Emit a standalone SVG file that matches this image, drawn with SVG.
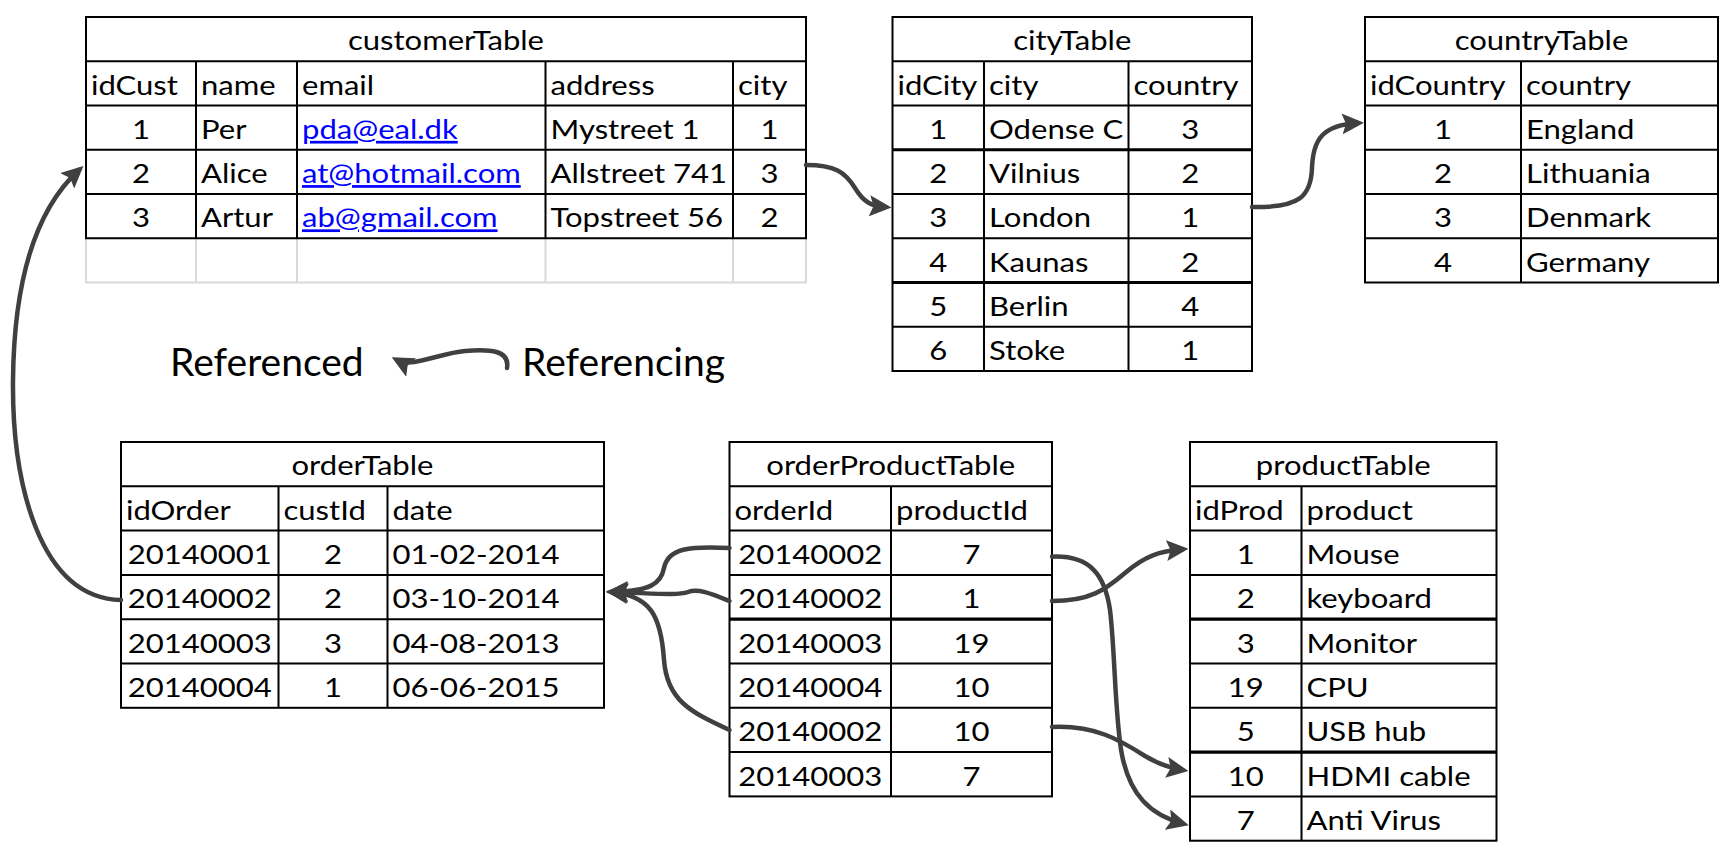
<svg xmlns="http://www.w3.org/2000/svg" width="1728" height="845" viewBox="0 0 1728 845">
<style>
.t{font-family:Lato,"Open Sans","Liberation Sans",sans-serif;font-size:27px;fill:#000;transform-box:fill-box;transform:translateY(1.5px) scaleX(1.15)}
.l{text-anchor:start;transform-origin:left center}
.c{text-anchor:middle;transform-origin:center}
.lnk{fill:#0000ff;text-decoration:underline}
.big{font-family:Lato,"Open Sans","Liberation Sans",sans-serif;font-size:39px;fill:#000}
.g{fill:none;stroke:#000;stroke-width:2}
.tk{stroke-width:3.2}
.gr{fill:none;stroke:#d9d9d9;stroke-width:2}
.cn{fill:none;stroke:#404040;stroke-width:4.5;stroke-linecap:round;marker-end:url(#ah)}
</style>
<defs>
<marker id="ah" markerUnits="userSpaceOnUse" markerWidth="22" markerHeight="21" viewBox="0 0 22 21" refX="16" refY="10.5" orient="auto">
<path d="M0,0 L22,10.5 L0,21 L4,10.5 z" fill="#404040"/>
</marker>
</defs>
<rect width="1728" height="845" fill="#fff"/>

<g id="customerTable">
<path class="gr" d="M86,238.25V282.5H806V238.25M196,238.25V282.5M297,238.25V282.5M545.5,238.25V282.5M733,238.25V282.5"/>
<rect class="g" x="86" y="17" width="720" height="221.25"/>
<path class="g" d="M86,61.25H806M86,105.5H806M86,149.75H806M86,194H806M196,61.25V238.25M297,61.25V238.25M545.5,61.25V238.25M733,61.25V238.25"/>
<text class="t c" x="446" y="49">customerTable</text>
<text class="t l" x="91" y="93.25">idCust</text>
<text class="t l" x="201" y="93.25">name</text>
<text class="t l" x="302" y="93.25">email</text>
<text class="t l" x="550.5" y="93.25">address</text>
<text class="t l" x="738" y="93.25">city</text>
<text class="t c" x="141" y="137.5">1</text>
<text class="t l" x="201" y="137.5">Per</text>
<text class="t l lnk" x="302" y="137.5">pda@eal.dk</text>
<text class="t l" x="550.5" y="137.5">Mystreet 1</text>
<text class="t c" x="769.5" y="137.5">1</text>
<text class="t c" x="141" y="181.75">2</text>
<text class="t l" x="201" y="181.75">Alice</text>
<text class="t l lnk" x="302" y="181.75">at@hotmail.com</text>
<text class="t l" x="550.5" y="181.75">Allstreet 741</text>
<text class="t c" x="769.5" y="181.75">3</text>
<text class="t c" x="141" y="226">3</text>
<text class="t l" x="201" y="226">Artur</text>
<text class="t l lnk" x="302" y="226">ab@gmail.com</text>
<text class="t l" x="550.5" y="226">Topstreet 56</text>
<text class="t c" x="769.5" y="226">2</text>
</g>

<g id="cityTable">
<rect class="g" x="892.5" y="17" width="359.5" height="354"/>
<path class="g" d="M892.5,61.25H1252M892.5,105.5H1252M892.5,194H1252M892.5,238.25H1252M892.5,326.75H1252M984,61.25V371M1128.5,61.25V371"/>
<path class="g tk" d="M892.5,149.75H1252M892.5,282.5H1252"/>
<text class="t c" x="1072.25" y="49">cityTable</text>
<text class="t l" x="897.5" y="93.25">idCity</text>
<text class="t l" x="989" y="93.25">city</text>
<text class="t l" x="1133.5" y="93.25">country</text>
<text class="t c" x="938.25" y="137.5">1</text><text class="t l" x="989" y="137.5">Odense C</text><text class="t c" x="1190.25" y="137.5">3</text>
<text class="t c" x="938.25" y="181.75">2</text><text class="t l" x="989" y="181.75">Vilnius</text><text class="t c" x="1190.25" y="181.75">2</text>
<text class="t c" x="938.25" y="226">3</text><text class="t l" x="989" y="226">London</text><text class="t c" x="1190.25" y="226">1</text>
<text class="t c" x="938.25" y="270.25">4</text><text class="t l" x="989" y="270.25">Kaunas</text><text class="t c" x="1190.25" y="270.25">2</text>
<text class="t c" x="938.25" y="314.5">5</text><text class="t l" x="989" y="314.5">Berlin</text><text class="t c" x="1190.25" y="314.5">4</text>
<text class="t c" x="938.25" y="358.75">6</text><text class="t l" x="989" y="358.75">Stoke</text><text class="t c" x="1190.25" y="358.75">1</text>
</g>

<g id="countryTable">
<rect class="g" x="1365" y="17" width="353" height="265.5"/>
<path class="g" d="M1365,61.25H1718M1365,105.5H1718M1365,149.75H1718M1365,194H1718M1365,238.25H1718M1521,61.25V282.5"/>
<text class="t c" x="1541.5" y="49">countryTable</text>
<text class="t l" x="1370" y="93.25">idCountry</text>
<text class="t l" x="1526" y="93.25">country</text>
<text class="t c" x="1443" y="137.5">1</text><text class="t l" x="1526" y="137.5">England</text>
<text class="t c" x="1443" y="181.75">2</text><text class="t l" x="1526" y="181.75">Lithuania</text>
<text class="t c" x="1443" y="226">3</text><text class="t l" x="1526" y="226">Denmark</text>
<text class="t c" x="1443" y="270.25">4</text><text class="t l" x="1526" y="270.25">Germany</text>
</g>

<g id="orderTable">
<rect class="g" x="121" y="442" width="483" height="265.8"/>
<path class="g" d="M121,486.3H604M121,530.6H604M121,574.9H604M121,619.2H604M121,663.5H604M278.5,486.3V707.8M387.5,486.3V707.8"/>
<text class="t c" x="362.5" y="474">orderTable</text>
<text class="t l" x="126" y="518.3">idOrder</text>
<text class="t l" x="283.5" y="518.3">custId</text>
<text class="t l" x="392.5" y="518.3">date</text>
<text class="t c" x="199.75" y="562.6">20140001</text><text class="t c" x="333" y="562.6">2</text><text class="t l" x="392.5" y="562.6">01-02-2014</text>
<text class="t c" x="199.75" y="606.9">20140002</text><text class="t c" x="333" y="606.9">2</text><text class="t l" x="392.5" y="606.9">03-10-2014</text>
<text class="t c" x="199.75" y="651.2">20140003</text><text class="t c" x="333" y="651.2">3</text><text class="t l" x="392.5" y="651.2">04-08-2013</text>
<text class="t c" x="199.75" y="695.5">20140004</text><text class="t c" x="333" y="695.5">1</text><text class="t l" x="392.5" y="695.5">06-06-2015</text>
</g>

<g id="orderProductTable">
<rect class="g" x="729.5" y="442" width="322.5" height="354.4"/>
<path class="g" d="M729.5,486.3H1052M729.5,530.6H1052M729.5,574.9H1052M729.5,663.5H1052M729.5,707.8H1052M729.5,752.1H1052M891,486.3V796.4"/>
<path class="g tk" d="M729.5,619.2H1052"/>
<text class="t c" x="890.75" y="474">orderProductTable</text>
<text class="t l" x="734.5" y="518.3">orderId</text>
<text class="t l" x="896" y="518.3">productId</text>
<text class="t c" x="810.25" y="562.6">20140002</text><text class="t c" x="971.5" y="562.6">7</text>
<text class="t c" x="810.25" y="606.9">20140002</text><text class="t c" x="971.5" y="606.9">1</text>
<text class="t c" x="810.25" y="651.2">20140003</text><text class="t c" x="971.5" y="651.2">19</text>
<text class="t c" x="810.25" y="695.5">20140004</text><text class="t c" x="971.5" y="695.5">10</text>
<text class="t c" x="810.25" y="739.8">20140002</text><text class="t c" x="971.5" y="739.8">10</text>
<text class="t c" x="810.25" y="784.1">20140003</text><text class="t c" x="971.5" y="784.1">7</text>
</g>

<g id="productTable">
<rect class="g" x="1190" y="442" width="306.5" height="398.7"/>
<path class="g" d="M1190,486.3H1496.5M1190,530.6H1496.5M1190,574.9H1496.5M1190,663.5H1496.5M1190,707.8H1496.5M1190,796.4H1496.5M1301.5,486.3V840.7"/>
<path class="g tk" d="M1190,619.2H1496.5M1190,752.1H1496.5"/>
<text class="t c" x="1343.25" y="474">productTable</text>
<text class="t l" x="1195" y="518.3">idProd</text>
<text class="t l" x="1306.5" y="518.3">product</text>
<text class="t c" x="1245.75" y="562.6">1</text><text class="t l" x="1306.5" y="562.6">Mouse</text>
<text class="t c" x="1245.75" y="606.9">2</text><text class="t l" x="1306.5" y="606.9">keyboard</text>
<text class="t c" x="1245.75" y="651.2">3</text><text class="t l" x="1306.5" y="651.2">Monitor</text>
<text class="t c" x="1245.75" y="695.5">19</text><text class="t l" x="1306.5" y="695.5">CPU</text>
<text class="t c" x="1245.75" y="739.8">5</text><text class="t l" x="1306.5" y="739.8">USB hub</text>
<text class="t c" x="1245.75" y="784.1">10</text><text class="t l" x="1306.5" y="784.1">HDMI cable</text>
<text class="t c" x="1245.75" y="828.4">7</text><text class="t l" x="1306.5" y="828.4">Anti Virus</text>
</g>

<g id="legend">
<text class="big" x="170" y="376">Referenced</text>
<text class="big" x="522" y="376">Referencing</text>
</g>

<g id="connectors">
<path class="cn" d="M806,165 C835,165 845,172 855,188 C864,203 872,206 885.5,207"/>
<path class="cn" d="M1252,207 C1300,208 1311,196 1312,168 C1313,140 1322,125 1358,123"/>
<path class="cn" d="M121,600 C38,598 12,480 13,380 C14,280 35,210 79,170"/>
<path class="cn" d="M729.5,548 C690,546 668,548 664,568 C661,584 650,591 612,592"/>
<path class="cn" d="M729.5,601 C712,594 698,588 688,592 C678,596 650,593 612,592"/>
<path class="cn" d="M729.5,730 C690,712 667,700 664,660 C661,615 650,596 612,592"/>
<path class="cn" d="M1052,556.7 C1090,555 1105,575 1110,610 C1115,650 1115,720 1122,755 C1130,795 1150,815 1183,823.7"/>
<path class="cn" d="M1052,601 C1090,601 1105,590 1125,573 C1145,556 1160,551 1182.5,549.3"/>
<path class="cn" d="M1052,727 C1095,725 1120,740 1145,756 C1160,765 1170,768 1182.5,770"/>
<path class="cn" d="M507,368 C510,350 490,349 465,351 C440,353 412,368 397,360"/>
</g>
</svg>
